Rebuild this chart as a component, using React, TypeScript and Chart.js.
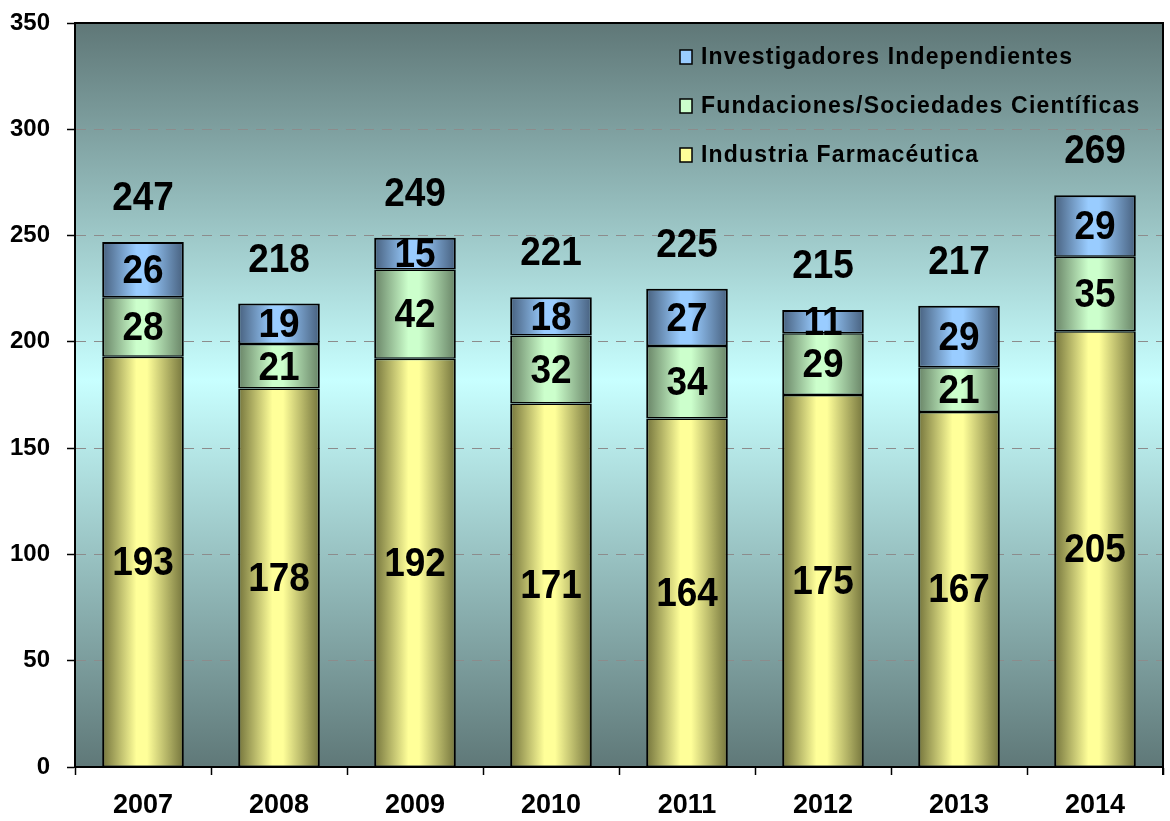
import React, { useEffect, useRef } from "react";
import { Chart, registerables } from "chart.js";

Chart.register(...registerables);

const years = ["2007", "2008", "2009", "2010", "2011", "2012", "2013", "2014"];
const industria = [193, 178, 192, 171, 164, 175, 167, 205];
const fundaciones = [28, 21, 42, 32, 34, 29, 21, 35];
const investigadores = [26, 19, 15, 18, 27, 11, 29, 29];
const totals = [247, 218, 249, 221, 225, 215, 217, 269];
const yTicks = [0, 50, 100, 150, 200, 250, 300, 350];

const palette = {
  yellow: { edge: "#74743c", light: "#ffff99" },
  green: { edge: "#688366", light: "#ccffcc" },
  blue: { edge: "#47607e", light: "#99ccff" },
};

const BAR_PCT = 0.6;

function barGradient(key: "yellow" | "green" | "blue") {
  return (ctx: any) => {
    const chart = ctx.chart;
    const xs = chart.scales && chart.scales.x;
    const c = palette[key];
    if (!xs || !xs.width || ctx.dataIndex === undefined) return c.light;
    const cx = xs.getPixelForValue(ctx.dataIndex);
    const w = (xs.width / years.length) * BAR_PCT;
    const g = chart.ctx.createLinearGradient(cx - w / 2, 0, cx + w / 2, 0);
    g.addColorStop(0, c.edge);
    g.addColorStop(0.42, c.light);
    g.addColorStop(0.55, c.light);
    g.addColorStop(1, c.edge);
    return g;
  };
}

const bgPlugin = {
  id: "bgPlugin",
  beforeDraw(chart: any) {
    const { ctx, chartArea: a } = chart;
    ctx.save();
    const g = ctx.createLinearGradient(0, a.top, 0, a.bottom);
    g.addColorStop(0, "#5f7777");
    g.addColorStop(0.48, "#c8ffff");
    g.addColorStop(1, "#5f7878");
    ctx.fillStyle = g;
    ctx.fillRect(a.left, a.top, a.right - a.left, a.bottom - a.top);
    ctx.restore();
  },
  afterDraw(chart: any) {
    const { ctx, chartArea: a } = chart;
    ctx.save();
    ctx.strokeStyle = "#000";
    ctx.lineWidth = 2;
    ctx.beginPath();
    ctx.moveTo(a.left, a.top);
    ctx.lineTo(a.right, a.top);
    ctx.lineTo(a.right, a.bottom + 8);
    ctx.stroke();
    ctx.restore();
  },
};

function stretchedText(ctx: any, text: string, x: number, y: number) {
  ctx.save();
  ctx.translate(x, y);
  ctx.scale(1, 1.1);
  ctx.fillText(text, 0, 0);
  ctx.restore();
}

const labelPlugin = {
  id: "labelPlugin",
  afterDatasetsDraw(chart: any) {
    const ctx = chart.ctx;
    ctx.save();
    ctx.fillStyle = "#000";
    ctx.textAlign = "center";
    ctx.textBaseline = "middle";
    ctx.font = "bold 37px Arial, 'Liberation Sans', sans-serif";
    chart.data.datasets.forEach((ds: any, di: number) => {
      const meta = chart.getDatasetMeta(di);
      meta.data.forEach((el: any, i: number) => {
        const v = ds.data[i];
        const cy = (el.y + el.base) / 2;
        stretchedText(ctx, String(v), el.x, cy + 2);
      });
    });
    const topMeta = chart.getDatasetMeta(chart.data.datasets.length - 1);
    topMeta.data.forEach((el: any, i: number) => {
      stretchedText(ctx, String(totals[i]), el.x, el.y - 43);
    });
    ctx.restore();
  },
};

const legendPlugin = {
  id: "legendPlugin",
  afterDraw(chart: any) {
    const ctx = chart.ctx;
    const items = [
      { label: chart.data.datasets[2].label, color: palette.blue, y: 57 },
      { label: chart.data.datasets[1].label, color: palette.green, y: 106 },
      { label: chart.data.datasets[0].label, color: palette.yellow, y: 155 },
    ];
    ctx.save();
    ctx.font = "bold 23px Arial, 'Liberation Sans', sans-serif";
    (ctx as any).letterSpacing = "1.2px";
    ctx.textBaseline = "middle";
    ctx.textAlign = "left";
    items.forEach((it) => {
      const x = 680;
      ctx.fillStyle = it.color.light;
      ctx.fillRect(x, it.y - 7, 12, 14);
      ctx.strokeStyle = "#000";
      ctx.lineWidth = 1.5;
      ctx.strokeRect(x, it.y - 7, 12, 14);
      ctx.fillStyle = "#000";
      ctx.fillText(it.label, 701, it.y + 1);
    });
    ctx.restore();
  },
};

export default function App() {
  const ref = useRef<HTMLCanvasElement | null>(null);
  useEffect(() => {
    document.body.style.margin = "0";
    const canvas = ref.current!;
    const chart = new Chart(canvas, {
      type: "bar",
      data: {
        labels: years,
        datasets: [
          {
            label: "Industria Farmacéutica",
            data: industria,
            backgroundColor: barGradient("yellow"),
            borderColor: "#000",
            borderWidth: { top: 1.5, bottom: 1, left: 2, right: 2 },
            borderSkipped: false,
          },
          {
            label: "Fundaciones/Sociedades Científicas",
            data: fundaciones,
            backgroundColor: barGradient("green"),
            borderColor: "#000",
            borderWidth: { top: 1.5, bottom: 1.5, left: 2, right: 2 },
            borderSkipped: false,
          },
          {
            label: "Investigadores Independientes",
            data: investigadores,
            backgroundColor: barGradient("blue"),
            borderColor: "#000",
            borderWidth: { top: 2, bottom: 1.5, left: 2, right: 2 },
            borderSkipped: false,
          },
        ],
      },
      options: {
        responsive: false,
        animation: false,
        layout: { padding: { top: 23, right: 7, left: 0, bottom: 0 } },
        datasets: { bar: { barPercentage: BAR_PCT, categoryPercentage: 1 } },
        plugins: {
          legend: { display: false },
          tooltip: { enabled: false },
          title: { display: false },
        },
        scales: {
          x: {
            stacked: true,
            offset: true,
            grid: {
              offset: true,
              drawOnChartArea: false,
              drawTicks: true,
              tickLength: 8,
              tickColor: "#000",
              tickWidth: 1.5,
            },
            border: { display: true, color: "#000", width: 2 },
            ticks: {
              color: "#000",
              padding: 14,
              font: { family: "Arial, 'Liberation Sans', sans-serif", size: 27, weight: "bold" },
            },
            afterFit: (s: any) => {
              s.height = 54;
              s.paddingLeft = 0;
              s.paddingRight = 0;
            },
          },
          y: {
            stacked: true,
            min: 0,
            max: 350,
            afterBuildTicks: (s: any) => {
              s.ticks = yTicks.map((v) => ({ value: v }));
            },
            grid: {
              color: "#8c8c8c",
              lineWidth: 1,
              tickColor: "#000",
              tickWidth: 1.5,
              tickLength: 8,
              tickBorderDash: [],
            },
            border: { display: true, color: "#000", width: 2, dash: [10, 8] },
            ticks: {
              color: "#000",
              padding: 17,
              font: { family: "Arial, 'Liberation Sans', sans-serif", size: 24, weight: "bold" },
            },
            afterFit: (s: any) => {
              s.width = 75;
              s.paddingTop = 0;
              s.paddingBottom = 0;
            },
          },
        },
      },
      plugins: [bgPlugin, labelPlugin, legendPlugin],
    });
    return () => chart.destroy();
  }, []);
  return <canvas ref={ref} width={1170} height={821} style={{ display: "block" }} />;
}
